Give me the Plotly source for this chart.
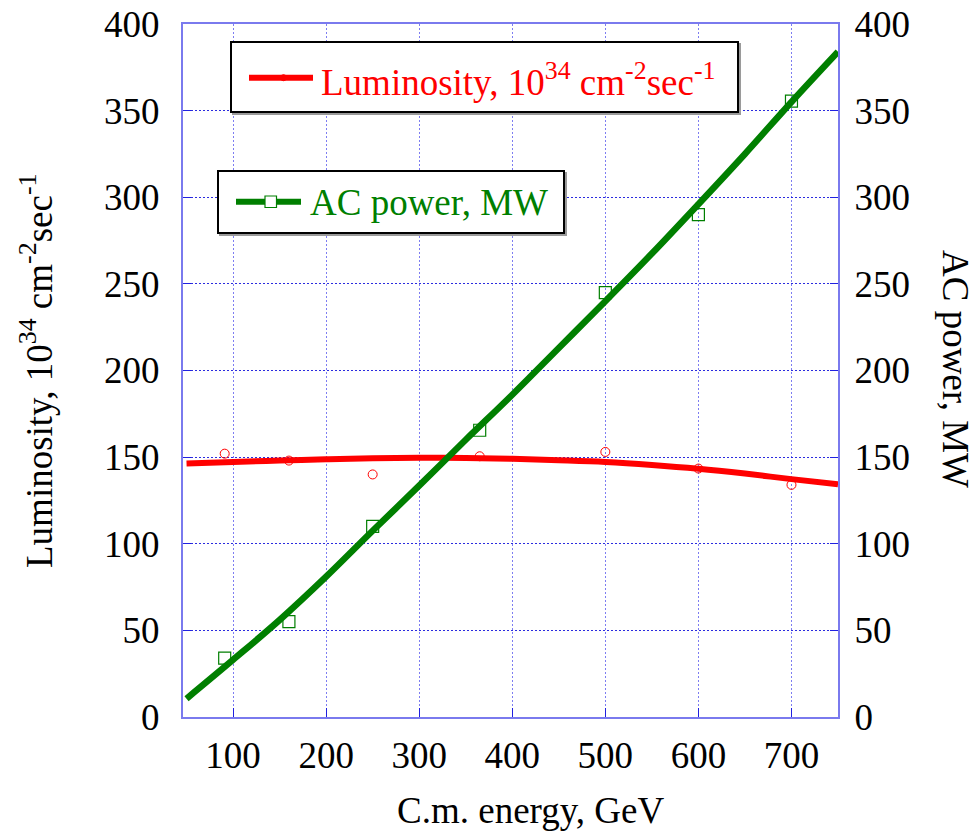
import plotly.graph_objects as go

# ---- data ----
energy = [91, 160, 250, 365, 500, 600, 700]
lumi_pts = [152, 148, 140, 150.5, 153, 143.4, 134]
power_pts = [34, 55, 110, 165.5, 245, 290, 355.5]

fit_energy = [50, 100, 150, 200, 250, 300, 350, 400, 450, 500, 550, 600, 650, 700, 750]
lumi_fit = [146.3, 147.2, 148.0, 148.8, 149.4, 149.6, 149.5, 149.0, 148.2, 147.2, 145.5, 143.3, 140.5, 137.3, 134.4]
power_fit = [10.6, 33, 56, 81, 107.5, 133.5, 160, 186, 213, 240, 267.5, 296, 325, 355, 384]

x_ticks = [100, 200, 300, 400, 500, 600, 700]
y_ticks = [0, 50, 100, 150, 200, 250, 300, 350, 400]

lumi_label = "Luminosity, 10<sup>34</sup> cm<sup>-2</sup>sec<sup>-1</sup>"
power_label = "AC power, MW"
x_title = "C.m. energy, GeV"

RED = "#ff0000"
GREEN = "#007f00"
FONT = "Liberation Serif"

# ---- layout geometry (pixels) ----
W, H = 978, 836
L, R, T, B = 183, 140, 24, 119
PW, PH = W - L - R, H - T - B


def fx(px):
    return (px - L) / PW


def fy(py):
    return (H - B - py) / PH


fig = go.Figure()

fig.add_trace(go.Scatter(x=energy, y=lumi_pts, mode="markers",
                         marker=dict(symbol="circle-open", size=9, color=RED, line=dict(width=1)),
                         showlegend=False, yaxis="y"))
fig.add_trace(go.Scatter(x=energy, y=power_pts, mode="markers",
                         marker=dict(symbol="square-open", size=12, color=GREEN, line=dict(width=1.2)),
                         showlegend=False, yaxis="y2"))
fig.add_trace(go.Scatter(x=fit_energy, y=lumi_fit, mode="lines", line=dict(color=RED, width=6, shape="spline"),
                         showlegend=False, yaxis="y"))
fig.add_trace(go.Scatter(x=fit_energy, y=power_fit, mode="lines", line=dict(color=GREEN, width=6.5, shape="spline"),
                         showlegend=False, yaxis="y2"))

tickfont = dict(family=FONT, size=37, color="black")
gridcol_v = "rgba(70,70,235,0.7)"
gridcol_h = "rgba(20,20,220,0.9)"
axcol = "#7a7aee"

shapes = []
annotations = []


def legend_box(x0, y0, x1, y1):
    shapes.append(dict(type="rect", xref="paper", yref="paper",
                       x0=fx(x0 + 2), x1=fx(x1 + 2), y0=fy(y0 + 2), y1=fy(y1 + 2),
                       line=dict(color="#9a9a9a", width=2), fillcolor="#9a9a9a", layer="above"))
    shapes.append(dict(type="rect", xref="paper", yref="paper",
                       x0=fx(x0), x1=fx(x1), y0=fy(y0), y1=fy(y1),
                       line=dict(color="black", width=2), fillcolor="white", layer="above"))


legend_box(231, 42, 738, 112)
shapes.append(dict(type="line", xref="paper", yref="paper", x0=fx(249), x1=fx(313), y0=fy(77.7), y1=fy(77.7),
                   line=dict(color=RED, width=6), layer="above"))
shapes.append(dict(type="circle", xref="paper", yref="paper", x0=fx(280.5), x1=fx(286.5), y0=fy(74.7), y1=fy(80.7),
                   line=dict(color=RED, width=1), fillcolor=RED, layer="above"))
annotations.append(dict(text=lumi_label, xref="paper", yref="paper", x=fx(319), y=fy(80),
                        xanchor="left", yanchor="middle", showarrow=False,
                        font=dict(family=FONT, size=37, color=RED)))

legend_box(218, 171, 564, 233)
shapes.append(dict(type="line", xref="paper", yref="paper", x0=fx(236), x1=fx(301), y0=fy(201.7), y1=fy(201.7),
                   line=dict(color=GREEN, width=6), layer="above"))
shapes.append(dict(type="rect", xref="paper", yref="paper", x0=fx(265), x1=fx(276.5), y0=fy(196), y1=fy(207.5),
                   line=dict(color=GREEN, width=1.2), fillcolor="white", layer="above"))
annotations.append(dict(text=power_label, xref="paper", yref="paper", x=fx(308), y=fy(203),
                        xanchor="left", yanchor="middle", showarrow=False,
                        font=dict(family=FONT, size=37, color=GREEN)))

# axis titles
annotations.append(dict(text=x_title, xref="paper", yref="paper", x=fx(530), y=fy(810),
                        xanchor="center", yanchor="middle", showarrow=False,
                        font=dict(family=FONT, size=37, color="black")))
annotations.append(dict(text=lumi_label, xref="paper", yref="paper", x=fx(37), y=fy(371),
                        xanchor="center", yanchor="middle", showarrow=False, textangle=-90,
                        font=dict(family=FONT, size=37, color="black")))
annotations.append(dict(text=power_label, xref="paper", yref="paper", x=fx(956), y=fy(369),
                        xanchor="center", yanchor="middle", showarrow=False, textangle=90,
                        font=dict(family=FONT, size=37, color="black")))

fig.update_layout(
    width=W, height=H,
    margin=dict(l=L, r=R, t=T, b=B, pad=0, autoexpand=False),
    paper_bgcolor="white", plot_bgcolor="white",
    showlegend=False,
    font=dict(family=FONT),
    xaxis=dict(range=[46.2, 750], tickvals=x_ticks, ticktext=[str(v) for v in x_ticks],
               showgrid=True, gridcolor=gridcol_v, griddash="2px,2px", gridwidth=1.3,
               ticks="inside", ticklen=9, tickcolor="#2020e0", tickwidth=1.3,
               showline=True, linecolor=axcol, linewidth=2, mirror=True, automargin=False,
               zeroline=False, tickfont=tickfont, ticklabelstandoff=5),
    yaxis=dict(range=[0, 400], tickvals=y_ticks, ticktext=[str(v) for v in y_ticks],
               showgrid=True, gridcolor=gridcol_h, griddash="2px,2px", gridwidth=1.3,
               ticks="inside", ticklen=8, tickcolor="#2020e0", tickwidth=1.3,
               showline=True, linecolor=axcol, linewidth=2, automargin=False,
               zeroline=False, tickfont=tickfont, ticklabelstandoff=14),
    yaxis2=dict(range=[0, 400], tickvals=y_ticks, ticktext=[str(v) for v in y_ticks],
                overlaying="y", side="right", showgrid=False,
                ticks="inside", ticklen=8, tickcolor="#2020e0", tickwidth=1.3,
                showline=True, linecolor=axcol, linewidth=2, automargin=False,
                zeroline=False, tickfont=tickfont, ticklabelstandoff=7),
    shapes=shapes,
    annotations=annotations,
)

fig.write_html("out.html", config={"displayModeBar": False},
               post_script="document.body.style.margin='0px';")
